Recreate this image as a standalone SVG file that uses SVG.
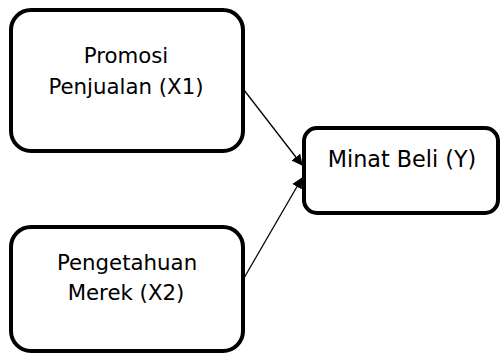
<svg xmlns="http://www.w3.org/2000/svg" width="500" height="354" viewBox="0 0 500 354">
<defs>
<style>
.box{fill:#fff;stroke:#000;stroke-width:4}
.lbl{font-family:"DejaVu Sans",Verdana,sans-serif;font-size:21.3px;fill:#000;text-anchor:middle}
.conn{stroke:#000;stroke-width:1.3;fill:none}
</style>
<marker id="ah" markerWidth="11" markerHeight="11" refX="10" refY="5.5" orient="auto" markerUnits="userSpaceOnUse">
<path d="M0,0 L11,5.5 L0,11 z" fill="#000"/>
</marker>
</defs>
<g id="connectors">
<line class="conn" x1="244" y1="90" x2="302" y2="165" marker-end="url(#ah)"/>
<line class="conn" x1="244" y1="278" x2="302" y2="178" marker-end="url(#ah)"/>
</g>
<g id="x1">
<rect class="box" x="11" y="10" width="232" height="141" rx="20"/>
<text class="lbl" x="126" y="63">Promosi</text>
<text class="lbl" x="126" y="94">Penjualan (X1)</text>
</g>
<g id="x2">
<rect class="box" x="11" y="227" width="232" height="124" rx="20"/>
<text class="lbl" x="127" y="270">Pengetahuan</text>
<text class="lbl" x="126" y="300">Merek (X2)</text>
</g>
<g id="y">
<rect class="box" x="304" y="128" width="194" height="85" rx="13"/>
<text class="lbl" x="402" y="167" style="font-size:22.3px">Minat Beli (Y)</text>
</g>
</svg>
